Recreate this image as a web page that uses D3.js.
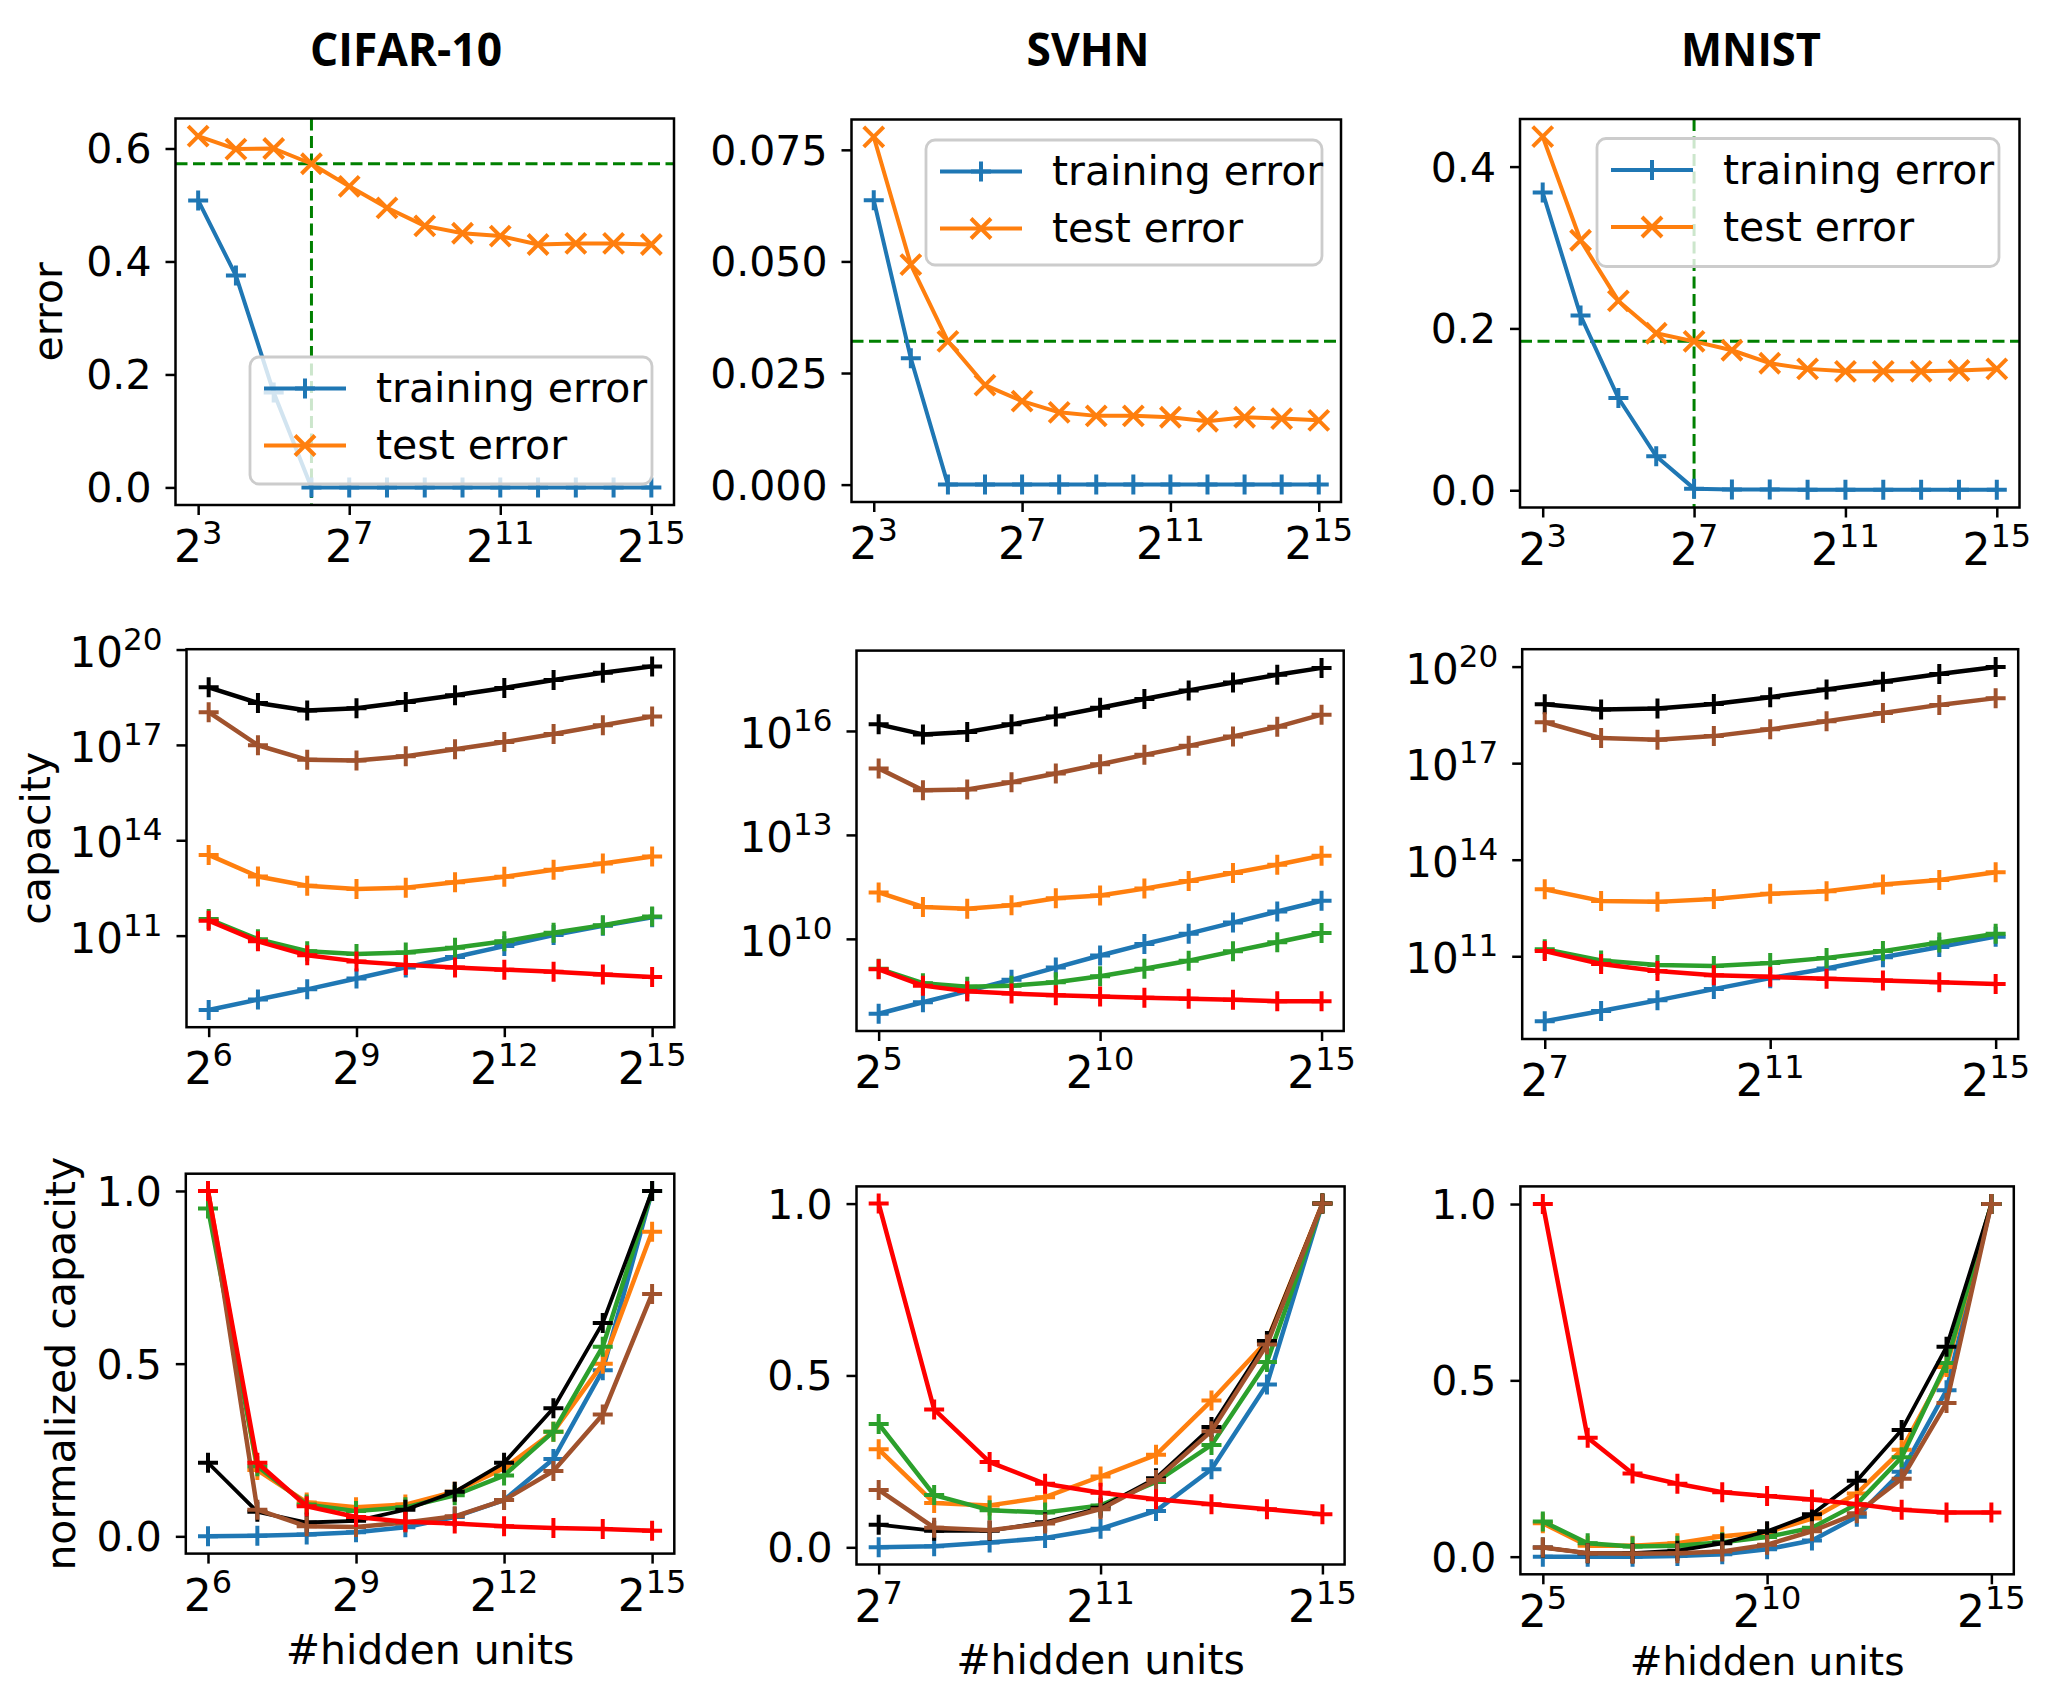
<!DOCTYPE html>
<html><head><meta charset="utf-8">
<script src="https://cdn.jsdelivr.net/npm/d3@7"></script>
<style>
body{margin:0;background:#fff}
svg{display:block}
text{font-family:"DejaVu Sans",sans-serif;fill:#000}
</style>
</head><body>
<svg id="c" width="2066" height="1686"></svg>
<script>
// ---------------- DATA ----------------
const datasetTitles = ["CIFAR-10", "SVHN", "MNIST"];
const seriesColors = ["blue", "orange", "green", "black", "brown", "red"]; // draw order

// Row 1: training / test error vs #hidden units
const errX = [8, 16, 32, 64, 128, 256, 512, 1024, 2048, 4096, 8192, 16384, 32768];
const cifarTrainErr = [0.508, 0.375, 0.168, 0.0, 0, 0, 0, 0, 0, 0, 0, 0, 0];
const cifarTestErr  = [0.622, 0.599, 0.600, 0.573, 0.533, 0.495, 0.463, 0.450, 0.445, 0.430, 0.432, 0.432, 0.430];
const svhnTrainErr  = [0.0637, 0.0283, 0, 0, 0, 0, 0, 0, 0, 0, 0, 0, 0];
const svhnTestErr   = [0.0779, 0.0493, 0.0321, 0.0223, 0.0187, 0.0162, 0.0154, 0.0154, 0.0151, 0.0142, 0.0151, 0.0148, 0.0144];
const mnistTrainErr = [0.368, 0.216, 0.114, 0.042, 0.002, 0.001, 0.001, 0.0005, 0.0005, 0.0005, 0.0005, 0.0005, 0.0005];
const mnistTestErr  = [0.437, 0.309, 0.234, 0.194, 0.184, 0.173, 0.157, 0.150, 0.147, 0.147, 0.147, 0.148, 0.150];
const cifarRef = {x: 64, y: 0.573};
const svhnRef  = {x: null, y: 0.0321};
const mnistRef = {x: 128, y: 0.184};
const legendLabels = ["training error", "test error"];

// Row 2: capacity (log10 of value)
const cifarCapX = [64, 128, 256, 512, 1024, 2048, 4096, 8192, 16384, 32768];
const cifarCapBlue   = [8.66, 8.99, 9.31, 9.65, 10.00, 10.33, 10.67, 11.02, 11.31, 11.58];
const cifarCapOrange = [13.54, 12.86, 12.57, 12.47, 12.51, 12.68, 12.85, 13.07, 13.27, 13.49];
const cifarCapGreen  = [11.52, 10.89, 10.51, 10.42, 10.47, 10.62, 10.82, 11.09, 11.33, 11.60];
const cifarCapRed    = [11.47, 10.82, 10.38, 10.19, 10.08, 10.00, 9.93, 9.86, 9.78, 9.70];
const cifarCapBlack  = [18.81, 18.32, 18.08, 18.15, 18.35, 18.56, 18.79, 19.04, 19.27, 19.47];
const cifarCapBrown  = [18.03, 16.99, 16.53, 16.51, 16.64, 16.86, 17.09, 17.34, 17.62, 17.89];

const svhnCapX = [32, 64, 128, 256, 512, 1024, 2048, 4096, 8192, 16384, 32768];
const svhnCapBlue   = [7.84, 8.17, 8.49, 8.82, 9.17, 9.52, 9.85, 10.15, 10.47, 10.79, 11.10];
const svhnCapOrange = [11.34, 10.92, 10.87, 10.97, 11.17, 11.25, 11.45, 11.67, 11.90, 12.14, 12.40];
const svhnCapGreen  = [9.14, 8.72, 8.62, 8.65, 8.75, 8.92, 9.14, 9.37, 9.64, 9.90, 10.17];
const svhnCapRed    = [9.12, 8.65, 8.49, 8.42, 8.37, 8.34, 8.30, 8.27, 8.24, 8.20, 8.20];
const svhnCapBlack  = [16.19, 15.90, 15.97, 16.19, 16.42, 16.67, 16.92, 17.17, 17.40, 17.62, 17.82];
const svhnCapBrown  = [14.92, 14.29, 14.31, 14.52, 14.77, 15.04, 15.31, 15.57, 15.84, 16.12, 16.47];

const mnistCapX = [128, 256, 512, 1024, 2048, 4096, 8192, 16384, 32768];
const mnistCapBlue   = [8.98, 9.30, 9.63, 9.98, 10.32, 10.62, 10.97, 11.29, 11.61];
const mnistCapOrange = [13.08, 12.72, 12.69, 12.78, 12.94, 13.02, 13.23, 13.37, 13.61];
const mnistCapGreen  = [11.22, 10.87, 10.73, 10.70, 10.79, 10.95, 11.16, 11.43, 11.70];
const mnistCapRed    = [11.16, 10.76, 10.54, 10.41, 10.36, 10.30, 10.25, 10.19, 10.14];
const mnistCapBlack  = [18.83, 18.67, 18.70, 18.84, 19.05, 19.29, 19.53, 19.77, 19.99];
const mnistCapBrown  = [18.27, 17.78, 17.73, 17.84, 18.05, 18.30, 18.56, 18.81, 19.02];

// Row 3: normalized capacity
const cifarNormX = [64, 128, 256, 512, 1024, 2048, 4096, 8192, 16384, 32768];
const cifarNormBlue   = [0.0, 0.002, 0.005, 0.012, 0.026, 0.056, 0.105, 0.224, 0.481, 1.0];
const cifarNormOrange = [1.0, 0.192, 0.098, 0.084, 0.092, 0.129, 0.197, 0.303, 0.500, 0.882];
const cifarNormGreen  = [0.949, 0.203, 0.092, 0.073, 0.084, 0.119, 0.176, 0.303, 0.549, 1.0];
const cifarNormRed    = [1.0, 0.213, 0.087, 0.056, 0.042, 0.037, 0.029, 0.024, 0.021, 0.016];
const cifarNormBlack  = [0.213, 0.071, 0.040, 0.045, 0.077, 0.129, 0.213, 0.371, 0.618, 1.0];
const cifarNormBrown  = [1.0, 0.077, 0.029, 0.027, 0.040, 0.058, 0.105, 0.189, 0.353, 0.702];

const svhnNormX = [128, 256, 512, 1024, 2048, 4096, 8192, 16384, 32768];
const svhnNormBlue   = [0.0, 0.003, 0.014, 0.027, 0.054, 0.106, 0.227, 0.474, 1.0];
const svhnNormOrange = [0.285, 0.129, 0.122, 0.146, 0.206, 0.269, 0.427, 0.600, 1.0];
const svhnNormGreen  = [0.359, 0.152, 0.108, 0.101, 0.122, 0.190, 0.298, 0.539, 1.0];
const svhnNormRed    = [1.0, 0.401, 0.248, 0.185, 0.159, 0.140, 0.125, 0.111, 0.096];
const svhnNormBlack  = [0.066, 0.048, 0.048, 0.073, 0.115, 0.201, 0.350, 0.600, 1.0];
const svhnNormBrown  = [0.167, 0.057, 0.050, 0.069, 0.111, 0.196, 0.338, 0.590, 1.0];

const mnistNormX = [32, 64, 128, 256, 512, 1024, 2048, 4096, 8192, 16384, 32768];
const mnistNormBlue   = [0.0, 0.0, 0.0, 0.002, 0.007, 0.021, 0.046, 0.113, 0.241, 0.472, 1.0];
const mnistNormOrange = [0.095, 0.031, 0.031, 0.038, 0.058, 0.069, 0.108, 0.179, 0.303, 0.538, 1.0];
const mnistNormGreen  = [0.100, 0.038, 0.029, 0.031, 0.041, 0.056, 0.082, 0.149, 0.282, 0.549, 1.0];
const mnistNormRed    = [1.0, 0.337, 0.236, 0.207, 0.183, 0.172, 0.162, 0.149, 0.133, 0.125, 0.125];
const mnistNormBlack  = [0.026, 0.010, 0.010, 0.017, 0.038, 0.072, 0.120, 0.215, 0.359, 0.595, 1.0];
const mnistNormBrown  = [0.026, 0.010, 0.008, 0.010, 0.015, 0.034, 0.072, 0.123, 0.221, 0.436, 1.0];

// Tick values
const errXTicks = [8, 128, 2048, 32768];
const cifarErrYTicks = [0, 0.2, 0.4, 0.6];
const svhnErrYTicks = [0, 0.025, 0.05, 0.075];
const mnistErrYTicks = [0, 0.2, 0.4];
const cifarXTicks = [64, 512, 4096, 32768];
const svhnCapXTicks = [32, 1024, 32768];
const mnistCapXTicks = [128, 2048, 32768];
const svhnNormXTicks = [128, 2048, 32768];
const mnistNormXTicks = [32, 1024, 32768];
const cifarCapYTicks = [1e11, 1e14, 1e17, 1e20];
const svhnCapYTicks = [1e10, 1e13, 1e16];
const mnistCapYTicks = [1e11, 1e14, 1e17, 1e20];
const normYTicks = [0, 0.5, 1.0];

// ---------------- STYLE / LAYOUT ----------------
const COLORS = {blue: "#1f77b4", orange: "#ff7f0e", green: "#2ca02c", red: "#ff0000", black: "#000000", brown: "#a0522d"};
const svg = d3.select("#c");
svg.append("rect").attr("width", 2066).attr("height", 1686).attr("fill", "#fff");

function padLin(a, b) { const d = (b - a) * 0.05; return [a - d, b + d]; }
function padLog(a, b) { const la = Math.log10(a), lb = Math.log10(b), d = (lb - la) * 0.05; return [Math.pow(10, la - d), Math.pow(10, lb + d)]; }

const plusPath = "M-10,0H10M0,-10V10";
const xPath = "M-10,-10L10,10M-10,10L10,-10";

let clipN = 0;
function drawPanel(p) {
  const b = p.box;
  const g = svg.append("g");
  const x = d3.scaleLog().base(2).domain(padLog(d3.min(p.x), d3.max(p.x))).range([b.l, b.r]);
  const allY = p.series.flatMap(s => s.values);
  const y = p.ylog
    ? d3.scaleLog().domain(padLog(d3.min(allY), d3.max(allY))).range([b.b, b.t])
    : d3.scaleLinear().domain(padLin(d3.min(allY), d3.max(allY))).range([b.b, b.t]);

  const cid = "clip" + (clipN++);
  svg.append("defs").append("clipPath").attr("id", cid)
    .append("rect").attr("x", b.l).attr("y", b.t).attr("width", b.r - b.l).attr("height", b.b - b.t);
  const plot = g.append("g").attr("clip-path", `url(#${cid})`);

  if (p.ref) {
    if (p.ref.y != null) plot.append("line").attr("x1", b.l).attr("x2", b.r).attr("y1", y(p.ref.y)).attr("y2", y(p.ref.y))
      .attr("stroke", "#008000").attr("stroke-width", 3).attr("stroke-dasharray", "12,5.5");
    if (p.ref.x != null) plot.append("line").attr("y1", b.t).attr("y2", b.b).attr("x1", x(p.ref.x)).attr("x2", x(p.ref.x))
      .attr("stroke", "#008000").attr("stroke-width", 3).attr("stroke-dasharray", "12,5.5");
  }

  const line = d3.line().x((d, i) => x(p.x[i])).y(d => y(d));
  p.series.forEach(s => {
    plot.append("path").attr("d", line(s.values)).attr("fill", "none")
      .attr("stroke", s.color).attr("stroke-width", s.lw || p.lw).attr("stroke-linejoin", "round");
    plot.selectAll(null).data(s.values).enter().append("path")
      .attr("d", s.marker === "x" ? xPath : plusPath)
      .attr("transform", (d, i) => `translate(${x(p.x[i])},${y(d)})`)
      .attr("fill", "none").attr("stroke", s.color).attr("stroke-width", s.mw || 4);
  });

  // axes ticks
  const xa = g.append("g").attr("transform", `translate(0,${b.b})`)
    .call(d3.axisBottom(x).tickValues(p.xTicks).tickSize(10).tickFormat(() => ""));
  xa.select(".domain").remove();
  xa.selectAll(".tick line").attr("stroke", "#000").attr("stroke-width", 2.5);
  const ya = g.append("g").attr("transform", `translate(${b.l},0)`)
    .call(d3.axisLeft(y).tickValues(p.yTicks).tickSize(10).tickFormat(() => ""));
  ya.select(".domain").remove();
  ya.selectAll(".tick line").attr("stroke", "#000").attr("stroke-width", 2.5);

  // x tick labels 2^n
  const xdy = p.xTickDy || 57;
  p.xTicks.forEach(v => {
    const t = g.append("text").attr("x", x(v)).attr("y", b.b + xdy).attr("text-anchor", "middle").style("font-size", "44px");
    t.append("tspan").text("2");
    t.append("tspan").attr("dy", -18).style("font-size", "32px").text(Math.round(Math.log2(v)));
  });
  // y tick labels
  p.yTicks.forEach(v => {
    if (p.ylog) {
      const t = g.append("text").attr("x", b.l - 24).attr("y", y(v) + 17).attr("text-anchor", "end").style("font-size", "42px");
      t.append("tspan").text("10");
      t.append("tspan").attr("dy", -17).style("font-size", "31px").text(Math.round(Math.log10(v)));
    } else {
      g.append("text").attr("x", b.l - 24).attr("y", y(v) + 15).attr("text-anchor", "end")
        .style("font-size", "41px").text(d3.format(p.yFmt)(v));
    }
  });

  // frame
  g.append("rect").attr("x", b.l).attr("y", b.t).attr("width", b.r - b.l).attr("height", b.b - b.t)
    .attr("fill", "none").attr("stroke", "#000").attr("stroke-width", 2.5);

  if (p.ylabel) {
    g.append("text").attr("transform", `translate(${p.ylabel.x},${(b.t + b.b) / 2}) rotate(-90)`)
      .attr("text-anchor", "middle").style("font-size", "41px").text(p.ylabel.text);
  }
  if (p.xlabel) {
    g.append("text").attr("x", (b.l + b.r) / 2).attr("y", p.xlabel.y)
      .attr("text-anchor", "middle").style("font-size", (p.xlabel.size || 41) + "px").text(p.xlabel.text);
  }

  if (p.legend) {
    const L = p.legend;
    const lg = g.append("g");
    lg.append("rect").attr("x", L.l).attr("y", L.t).attr("width", L.w).attr("height", L.h).attr("rx", 9)
      .attr("fill", "#fff").attr("fill-opacity", 0.8).attr("stroke", "#cccccc").attr("stroke-width", 2.8);
    p.series.forEach((s, i) => {
      const cy = L.t + 31.5 + i * 57;
      lg.append("line").attr("x1", L.l + 14).attr("x2", L.l + 96).attr("y1", cy).attr("y2", cy)
        .attr("stroke", s.color).attr("stroke-width", p.lw);
      lg.append("path").attr("d", s.marker === "x" ? xPath : plusPath)
        .attr("transform", `translate(${L.l + 55},${cy})`).attr("fill", "none").attr("stroke", s.color).attr("stroke-width", 4);
      lg.append("text").attr("x", L.l + 126).attr("y", cy + 13.5).style("font-size", "41px").text(legendLabels[i]);
    });
  }
}

function capSeries(arrs) {
  const m = {blue: arrs[0], orange: arrs[1], green: arrs[2], red: arrs[3], black: arrs[4], brown: arrs[5]};
  return seriesColors.map(c => ({color: COLORS[c], values: m[c].map(v => Math.pow(10, v)), marker: "+"}));
}
function normSeries(arrs) {
  const m = {blue: arrs[0], orange: arrs[1], green: arrs[2], red: arrs[3], black: arrs[4], brown: arrs[5]};
  return seriesColors.map(c => ({color: COLORS[c], values: m[c], marker: "+", lw: c === "black" ? 3.8 : 4.5}));
}
function errSeries(train, test) {
  return [
    {color: COLORS.blue, values: train, marker: "+"},
    {color: COLORS.orange, values: test, marker: "x"}
  ];
}

// titles
const titleX = [406, 1088, 1751];
const titleW = [192, 123, 140];
datasetTitles.forEach((t, i) => {
  svg.append("text").attr("x", titleX[i]).attr("y", 66).attr("text-anchor", "middle")
    .style("font-family", "'Open Sans', sans-serif").style("font-weight", "bold").style("font-size", "47px")
    .attr("textLength", titleW[i]).attr("lengthAdjust", "spacingAndGlyphs").text(t);
});

// Row 1
drawPanel({box: {l: 175.5, r: 674, t: 118.5, b: 505}, x: errX, series: errSeries(cifarTrainErr, cifarTestErr),
  lw: 4, xTicks: errXTicks, yTicks: cifarErrYTicks, yFmt: ".1f", ref: cifarRef,
  ylabel: {x: 62, text: "error"}, legend: {l: 250, t: 357, w: 402, h: 127}});
drawPanel({box: {l: 851.5, r: 1341, t: 119.5, b: 502}, x: errX, series: errSeries(svhnTrainErr, svhnTestErr),
  lw: 4, xTicks: errXTicks, yTicks: svhnErrYTicks, yFmt: ".3f", ref: svhnRef,
  legend: {l: 926, t: 140, w: 396, h: 125}});
drawPanel({box: {l: 1520, r: 2019.5, t: 119, b: 507.5}, x: errX, series: errSeries(mnistTrainErr, mnistTestErr),
  lw: 4, xTicks: errXTicks, yTicks: mnistErrYTicks, yFmt: ".1f", ref: mnistRef,
  legend: {l: 1597, t: 138.5, w: 402, h: 128}});

// Row 2
drawPanel({box: {l: 186.5, r: 674.3, t: 649.2, b: 1027.2}, x: cifarCapX, ylog: true,
  series: capSeries([cifarCapBlue, cifarCapOrange, cifarCapGreen, cifarCapRed, cifarCapBlack, cifarCapBrown]),
  lw: 4.5, xTicks: cifarXTicks, yTicks: cifarCapYTicks, ylabel: {x: 50, text: "capacity"}});
drawPanel({box: {l: 856.5, r: 1343.7, t: 650.6, b: 1031}, x: svhnCapX, ylog: true,
  series: capSeries([svhnCapBlue, svhnCapOrange, svhnCapGreen, svhnCapRed, svhnCapBlack, svhnCapBrown]),
  lw: 4.5, xTicks: svhnCapXTicks, yTicks: svhnCapYTicks});
drawPanel({box: {l: 1522.2, r: 2018.2, t: 649.2, b: 1039}, x: mnistCapX, ylog: true,
  series: capSeries([mnistCapBlue, mnistCapOrange, mnistCapGreen, mnistCapRed, mnistCapBlack, mnistCapBrown]),
  lw: 4.5, xTicks: mnistCapXTicks, yTicks: mnistCapYTicks});

// Row 3
drawPanel({box: {l: 185.8, r: 674.3, t: 1173.7, b: 1553.6}, x: cifarNormX,
  series: normSeries([cifarNormBlue, cifarNormOrange, cifarNormGreen, cifarNormRed, cifarNormBlack, cifarNormBrown]),
  lw: 4.5, xTicks: cifarXTicks, yTicks: normYTicks, yFmt: ".1f",
  ylabel: {x: 75, text: "normalized capacity"}, xlabel: {y: 1664, text: "#hidden units"}});
drawPanel({box: {l: 856.5, r: 1344.6, t: 1186.4, b: 1564.5}, x: svhnNormX,
  series: normSeries([svhnNormBlue, svhnNormOrange, svhnNormGreen, svhnNormRed, svhnNormBlack, svhnNormBrown]),
  lw: 4.5, xTicks: svhnNormXTicks, yTicks: normYTicks, yFmt: ".1f",
  xlabel: {y: 1674, text: "#hidden units"}});
drawPanel({box: {l: 1520.4, r: 2013.8, t: 1186.4, b: 1574.3}, x: mnistNormX,
  series: normSeries([mnistNormBlue, mnistNormOrange, mnistNormGreen, mnistNormRed, mnistNormBlack, mnistNormBrown]),
  lw: 4.5, xTicks: mnistNormXTicks, yTicks: normYTicks, yFmt: ".1f", xTickDy: 53,
  xlabel: {y: 1675, size: 39, text: "#hidden units"}});
</script>
</body></html>
